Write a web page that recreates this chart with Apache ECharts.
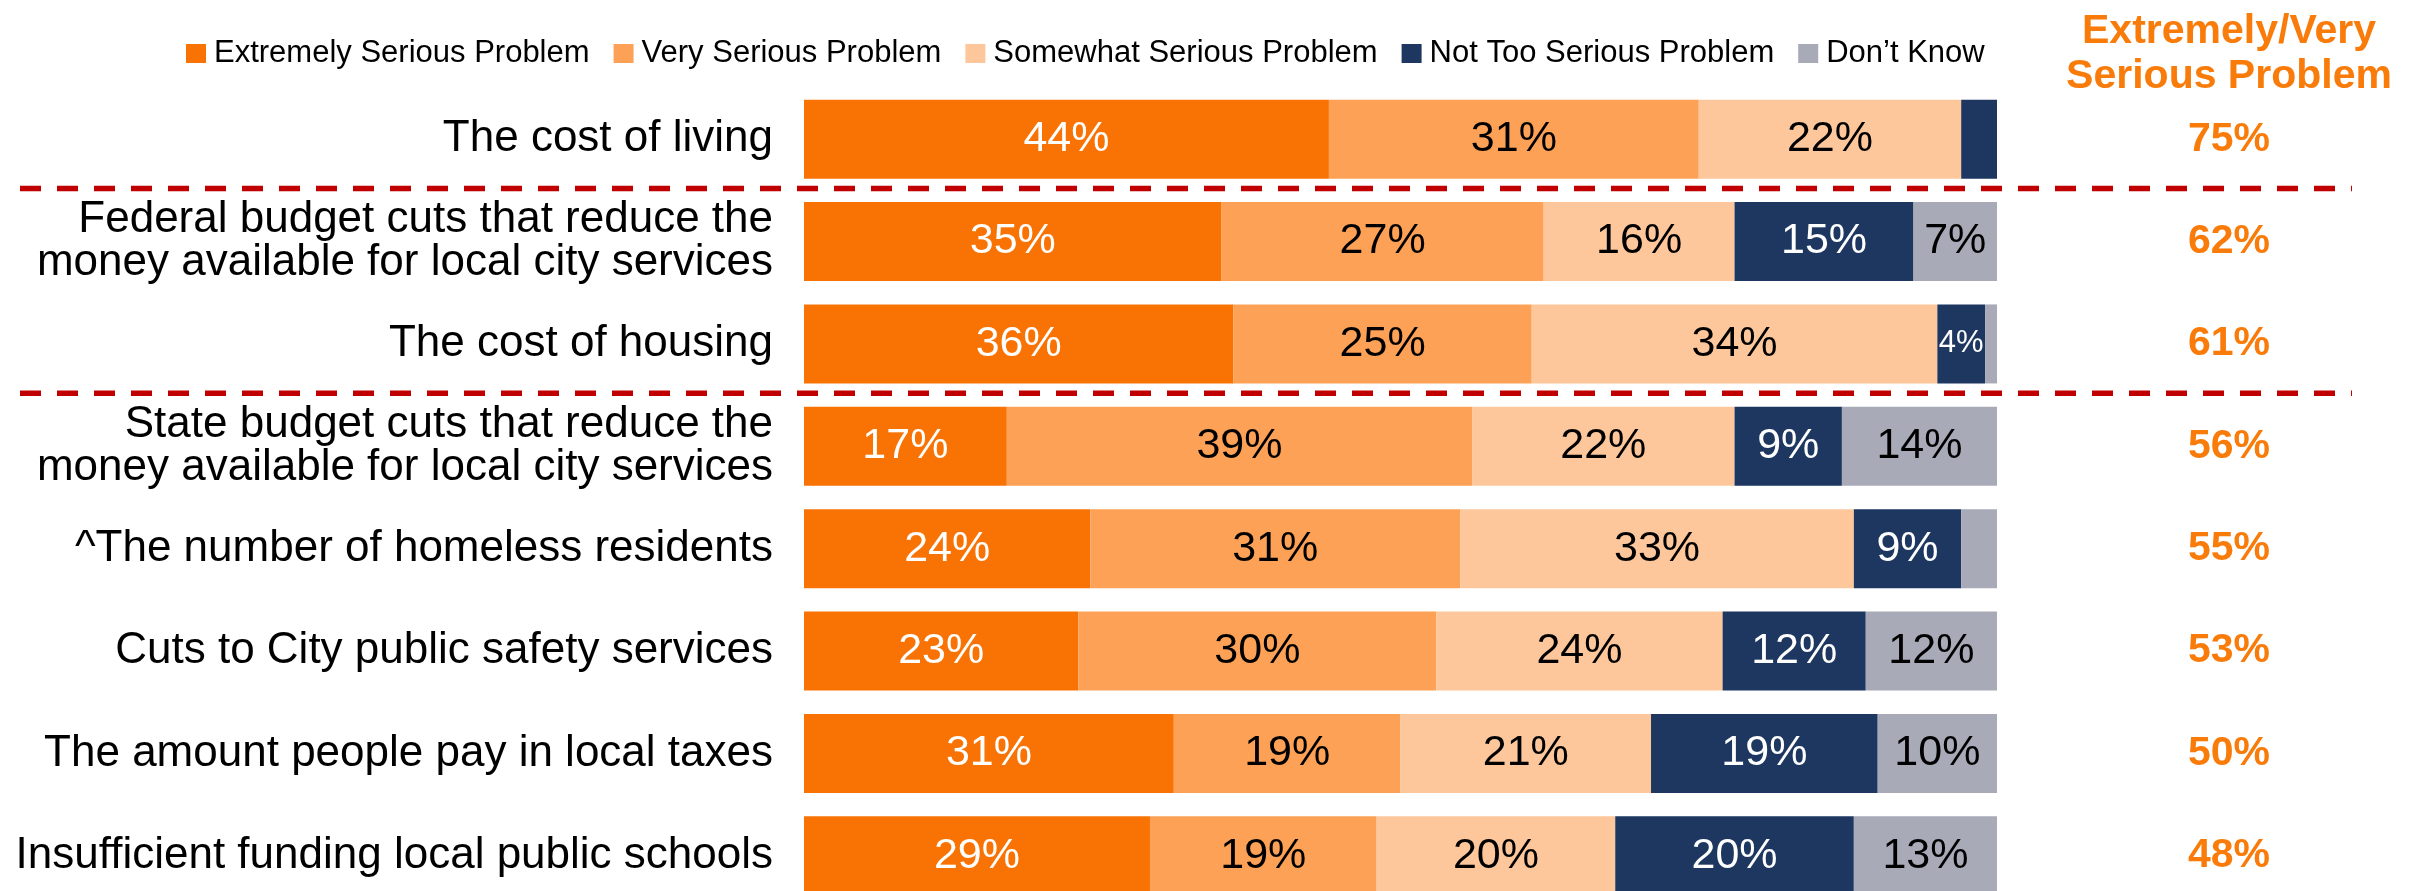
<!DOCTYPE html>
<html>
<head>
<meta charset="utf-8">
<title>Serious problems</title>
<script src="https://cdn.jsdelivr.net/npm/echarts@6/dist/echarts.min.js"></script>
<style>
  html, body { margin: 0; padding: 0; background: #fff; overflow: hidden; }
  #chart { width: 2415px; height: 907px; }
</style>
</head>
<body>
<div id="chart"></div>
<script>
// 数据
const categories = [
  'The cost of living',
  'Federal budget cuts that reduce the\nmoney available for local city services',
  'The cost of housing',
  'State budget cuts that reduce the\nmoney available for local city services',
  '^The number of homeless residents',
  'Cuts to City public safety services',
  'The amount people pay in local taxes',
  'Insufficient funding local public schools'
];
const seriesNames = ['Extremely Serious Problem', 'Very Serious Problem', 'Somewhat Serious Problem', 'Not Too Serious Problem', 'Don\u2019t Know'];
const extremely = [44, 35, 36, 17, 24, 23, 31, 29];
const very      = [31, 27, 25, 39, 31, 30, 19, 19];
const somewhat  = [22, 16, 34, 22, 33, 24, 21, 20];
const notToo    = [3, 15, 4, 9, 9, 12, 19, 20];
const dontKnow  = [0, 7, 1, 14, 3, 12, 10, 13];
const topTwo    = [75, 62, 61, 56, 55, 53, 50, 48];

const FONT = "'Liberation Sans', Arial, sans-serif";
const colors = ['#F87304', '#FCA155', '#FDC79B', '#1D3761', '#A9AAB8'];
const labelColors = ['#fff', '#000', '#000', '#fff', '#000'];
const ORANGE = '#F97B0A';

// 图表比窗口高一点，最后一行被裁掉一截（和原图一样）
const chart = echarts.init(document.getElementById('chart'));

// 小数值不显示标签，4% 用小字
const toData = values => values.map(v => {
  if (v < 4) return { value: v, label: { show: false } };
  if (v < 5) return { value: v, label: { fontSize: 31 } };
  return v;
});

const makeSeries = (name, values, i) => ({
  name: name,
  type: 'bar',
  stack: 'total',
  barWidth: 79,
  clip: true,
  itemStyle: { color: colors[i] },
  label: {
    show: true,
    position: 'inside',
    color: labelColors[i],
    fontFamily: FONT,
    fontSize: 43,
    formatter: p => p.value + '%'
  },
  emphasis: { disabled: true },
  data: toData(values)
});

const option = {
  animation: false,
  legend: {
    data: seriesNames,
    left: 181,
    top: 33,
    icon: 'rect',
    itemWidth: 20,
    itemHeight: 19,
    itemGap: 24,
    selectedMode: false,
    textStyle: { fontFamily: FONT, fontSize: 31, color: '#000', padding: [0, 0, 0, 3] }
  },
  grid: { left: 804, right: 418, top: 88, bottom: 0 },
  xAxis: { type: 'value', min: 0, max: 100, show: false },
  yAxis: [
    {
      type: 'category',
      data: categories,
      inverse: true,
      axisLine: { show: false },
      axisTick: { show: false },
      axisLabel: { fontFamily: FONT, fontSize: 44, lineHeight: 43, color: '#000', margin: 31 }
    },
    {
      type: 'category',
      data: categories,
      inverse: true,
      position: 'right',
      axisLine: { show: false },
      axisTick: { show: false },
      axisLabel: {
        align: 'center',
        margin: 232,
        fontFamily: FONT,
        fontSize: 41,
        fontWeight: 'bold',
        color: ORANGE,
        formatter: (v, idx) => topTwo[idx] + '%'
      }
    }
  ],
  series: [
    makeSeries(seriesNames[0], extremely, 0),
    makeSeries(seriesNames[1], very, 1),
    makeSeries(seriesNames[2], somewhat, 2),
    makeSeries(seriesNames[3], notToo, 3),
    makeSeries(seriesNames[4], dontKnow, 4)
  ]
};

option && chart.setOption(option);

// 分隔虚线 + 右侧标题
const y0 = chart.convertToPixel({ yAxisIndex: 0 }, categories[0]);
const y1 = chart.convertToPixel({ yAxisIndex: 0 }, categories[1]);
const half = (y1 - y0) / 2;
const sepY = [0, 2].map(i => chart.convertToPixel({ yAxisIndex: 0 }, categories[i]) + half - 2);

chart.setOption({
  graphic: [
    ...sepY.map(y => ({
      type: 'line',
      shape: { x1: 20, y1: y, x2: 2352, y2: y },
      style: { stroke: '#C00000', lineWidth: 5.5, lineDash: [21, 16] },
      silent: true
    })),
    {
      type: 'text',
      x: 2229,
      y: 9,
      style: {
        text: 'Extremely/Very\nSerious Problem',
        align: 'center',
        verticalAlign: 'top',
        fill: ORANGE,
        fontFamily: FONT,
        fontWeight: 'bold',
        fontSize: 41,
        lineHeight: 45
      },
      silent: true
    }
  ]
});
</script>
</body>
</html>
